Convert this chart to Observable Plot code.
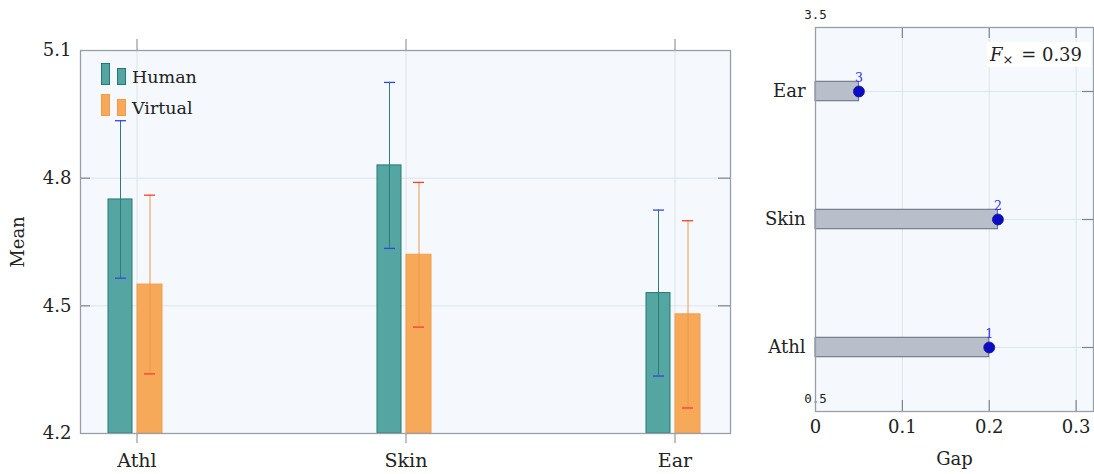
<!DOCTYPE html>
<html>
<head>
<meta charset="utf-8">
<script src="https://cdn.jsdelivr.net/npm/d3@7"></script>
<script src="https://cdn.jsdelivr.net/npm/@observablehq/plot@0.6"></script>
<style>
  html, body { margin: 0; padding: 0; background: #fff; }
  #wrap { position: relative; width: 1094px; height: 474px; font-family: "DejaVu Serif", serif; color: #222; }
  #left, #right { position: absolute; top: 0; }
  #left { left: 0; }
  #right { left: 760px; }
  .leg { position: absolute; left: 101px; font-size: 17.5px; }
  .leg .a, .leg .b { position: absolute; width: 7px; border: 1px solid; }
  .leg .t { position: absolute; left: 31px; white-space: nowrap; }
  #fx { position: absolute; left: 987px; top: 42px; width: 104px; height: 25px; background: #fff; font-size: 18px; line-height: 25px; padding-left: 3px; box-sizing: border-box; white-space: nowrap; }
  #fx sub { font-size: 13px; vertical-align: -3px; line-height: 0; margin-right: 2px; }
</style>
</head>
<body>
<div id="wrap">
  <div id="left"></div>
  <div id="right"></div>
  <div class="leg" id="legH" style="top:63px"></div>
  <div class="leg" id="legV" style="top:94px"></div>
  <div id="fx"></div>
</div>
<script>
// ---- data ----
const categories = ["Athl", "Skin", "Ear"];
const seriesNames = ["Human", "Virtual"];
const humanMean = [4.75, 4.83, 4.53];
const humanErr = [0.185, 0.195, 0.195];
const virtualMean = [4.55, 4.62, 4.48];
const virtualErr = [0.21, 0.17, 0.22];
const meanTicks = [4.2, 4.5, 4.8, 5.1];
const meanInnerTicks = [4.5, 4.8];
const gapValues = [0.20, 0.21, 0.05];
const gapRanks = [1, 2, 3];
const gapTicks = [0, 0.1, 0.2, 0.3];
const gapCornerLabels = [0.5, 3.5];
const fCross = 0.39;

// ---- styles ----
const C = {
  bg: "#f5f9fd", grid: "#dde3ea", frame: "#979ea8", tick: "#7d848e", text: "#222",
  hFill: "#55a6a3", hStroke: "#237a74", hErr: "#2a7d78", hCap: "#3347e0",
  vFill: "#f6a958", vStroke: "#f39c48", vErr: "#f0964a", vCap: "#ff3b2b",
  gFill: "#b9bfca", gStroke: "#5e6b80", dot: "#0b0bc8", rank: "#2f2fff"
};
const serif = "DejaVu Serif";
const fs = 18;

const human = categories.map((c, i) => ({cat: c, series: seriesNames[0], mean: humanMean[i], lo: humanMean[i] - humanErr[i], hi: humanMean[i] + humanErr[i]}));
const virtual = categories.map((c, i) => ({cat: c, series: seriesNames[1], mean: virtualMean[i], lo: virtualMean[i] - virtualErr[i], hi: virtualMean[i] + virtualErr[i]}));
const yMin = meanTicks[0];

const left = Plot.plot({
  width: 760, height: 474,
  marginLeft: 80, marginRight: 30, marginTop: 50, marginBottom: 41,
  style: {fontFamily: serif, fontSize: fs + "px", color: C.text, background: "transparent"},
  x: {type: "band", domain: categories, paddingInner: 0.796, paddingOuter: 0.104},
  y: {domain: [meanTicks[0], meanTicks[meanTicks.length - 1]]},
  marks: [
    Plot.frame({fill: C.bg, stroke: "none"}),
    Plot.gridY(meanInnerTicks, {stroke: C.grid, strokeOpacity: 1, strokeWidth: 1}),
    Plot.gridX(categories, {stroke: C.grid, strokeOpacity: 1, strokeWidth: 1}),
    Plot.barY(human, {x: "cat", y1: yMin, y2: "mean", insetLeft: -1, insetRight: 32, fill: C.hFill, stroke: C.hStroke, strokeWidth: 1}),
    Plot.barY(virtual, {x: "cat", y1: yMin, y2: "mean", insetLeft: 28, insetRight: 2, fill: C.vFill, stroke: C.vStroke, strokeWidth: 1}),
    Plot.ruleX(human, {x: "cat", y1: "lo", y2: "hi", dx: -16.5, stroke: C.hErr, strokeWidth: 1}),
    Plot.tickY(human, {x: "cat", y: "lo", insetLeft: 6, insetRight: 38, stroke: C.hCap, strokeWidth: 1.3}),
    Plot.tickY(human, {x: "cat", y: "hi", insetLeft: 6, insetRight: 38, stroke: C.hCap, strokeWidth: 1.3}),
    Plot.ruleX(virtual, {x: "cat", y1: "lo", y2: "hi", dx: 13, stroke: C.vErr, strokeWidth: 1}),
    Plot.tickY(virtual, {x: "cat", y: "lo", insetLeft: 35, insetRight: 9, stroke: C.vCap, strokeWidth: 1.3}),
    Plot.tickY(virtual, {x: "cat", y: "hi", insetLeft: 35, insetRight: 9, stroke: C.vCap, strokeWidth: 1.3}),
    // inside y ticks
    Plot.tickY(meanInnerTicks, {y: d => d, insetRight: 640, stroke: C.tick, strokeWidth: 1.2}),
    Plot.tickY(meanInnerTicks, {y: d => d, insetLeft: 638, stroke: C.tick, strokeWidth: 1.2}),
    Plot.axisY({ticks: meanTicks, tickSize: 0, tickPadding: 9, tickFormat: d => d.toFixed(1), fontSize: fs, label: "Mean", labelAnchor: "center", labelOffset: 69, labelArrow: "none"}),
    Plot.axisX({anchor: "bottom", tickSize: 10, tickPadding: 10, stroke: C.tick, fontSize: 19, label: null}),
    Plot.axisX({anchor: "top", tickSize: 12, tickFormat: () => "", stroke: C.tick, label: null}),
    Plot.frame({stroke: C.frame, strokeWidth: 1.3})
  ]
});
document.getElementById("left").appendChild(left);

const gap = categories.map((c, i) => ({cat: c, value: gapValues[i], rank: gapRanks[i]}));
const barHalf = 0.076;

const right = Plot.plot({
  width: 334, height: 474,
  marginLeft: 55, marginRight: 1, marginTop: 27, marginBottom: 63,
  style: {fontFamily: serif, fontSize: fs + "px", color: C.text, background: "transparent", overflow: "visible"},
  x: {domain: [0, 0.32]},
  y: {domain: gapCornerLabels},
  marks: [
    Plot.frame({fill: C.bg, stroke: "none"}),
    Plot.gridX(gapTicks.slice(1), {stroke: C.grid, strokeOpacity: 1, strokeWidth: 1}),
    Plot.gridY(gapRanks, {stroke: C.grid, strokeOpacity: 1, strokeWidth: 1}),
    Plot.rectX(gap, {x1: 0, x2: "value", y1: d => d.rank - barHalf, y2: d => d.rank + barHalf, fill: C.gFill, stroke: C.gStroke, strokeWidth: 1}),
    Plot.dot(gap, {x: "value", y: "rank", r: 5.5, fill: C.dot, stroke: "#1a1a8a", strokeWidth: 0.8}),
    Plot.text(gap, {x: "value", y: "rank", text: d => String(d.rank), dy: -14, fill: C.rank, fontSize: 12.5, fontFamily: serif}),
    Plot.tickY(gapRanks, {y: d => d, insetLeft: 267, stroke: C.tick, strokeWidth: 1.2}),
    Plot.tickX(gapTicks.slice(1), {x: d => d, insetTop: 373, stroke: C.tick, strokeWidth: 1.2}),
    Plot.tickX(gapTicks.slice(1), {x: d => d, insetBottom: 373, stroke: C.tick, strokeWidth: 1.2}),
    Plot.axisY({ticks: gapRanks, tickSize: 0, tickPadding: 10, tickFormat: d => categories[d - 1], fontSize: fs, label: null}),
    Plot.axisX({ticks: gapTicks, tickSize: 0, tickPadding: 9, tickFormat: d => String(d), fontSize: fs, label: "Gap", labelAnchor: "center", labelOffset: 53, labelArrow: "none"}),
    Plot.text(gapCornerLabels, {x: 0, y: d => d, text: d => d.toFixed(1), dy: -13, fontFamily: "DejaVu Sans Mono", fontSize: 12.5, fill: C.text}),
    Plot.frame({stroke: C.frame, strokeWidth: 1.3})
  ]
});
document.getElementById("right").appendChild(right);

// legend (inside plot, top-left)
function legendRow(id, name, fill, stroke, shiftText) {
  const el = document.getElementById(id);
  el.innerHTML = `<div class="a" style="left:0;top:0;height:20px;background:${fill};border-color:${stroke}"></div>` +
    `<div class="b" style="left:16px;top:5px;height:15px;background:${fill};border-color:${stroke}"></div>` +
    `<div class="t" style="top:${shiftText}px">${name}</div>`;
}
legendRow("legH", seriesNames[0], C.hFill, C.hStroke, 4);
legendRow("legV", seriesNames[1], C.vFill, C.vStroke, 4);

document.getElementById("fx").innerHTML = `<i>F</i><sub>×</sub> = ${fCross}`;
</script>
</body>
</html>
